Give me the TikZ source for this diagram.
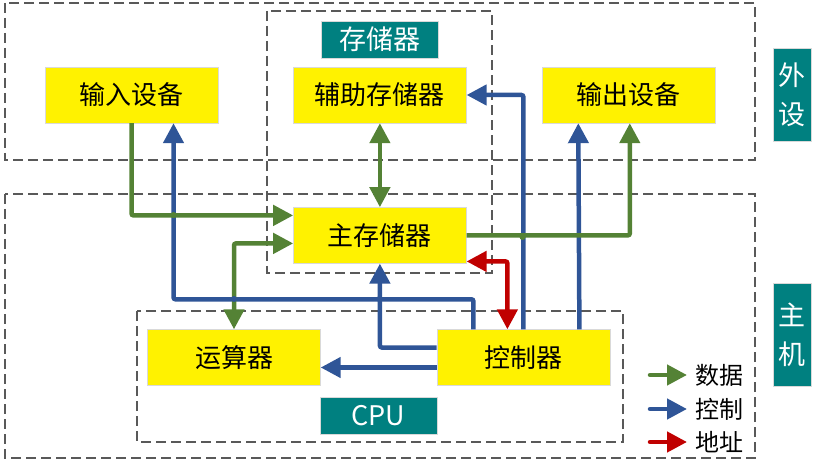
\documentclass[tikz,border=0pt]{standalone}
\usepackage{fontspec}
\newfontfamily\cjk{Noto Sans CJK SC}
\usepackage{tikz}
\usetikzlibrary{positioning, arrows.meta, calc}

\definecolor{datagreen}{RGB}{84,130,53}
\definecolor{ctrlblue}{RGB}{47,85,151}
\definecolor{addrred}{RGB}{192,0,0}
\definecolor{tagteal}{RGB}{0,128,128}

\begin{document}
\begin{tikzpicture}[
    x=1pt, y=-1pt,
    unit/.style={draw=black!15, fill=yellow, rectangle, minimum width=173pt, minimum height=56pt, inner sep=0pt, font=\cjk\fontsize{26}{30}\selectfont},
    tag/.style={draw=black!15, fill=tagteal, text=white, rectangle, minimum width=117pt, minimum height=37pt, inner sep=0pt, align=center, font=\cjk\fontsize{27}{39}\selectfont},
    legtext/.style={inner sep=0pt, anchor=west, font=\cjk\fontsize{24}{28}\selectfont},
    frame/.style={draw=black!65, line width=1.3pt, dash pattern=on 10pt off 5pt},
    edge/.style={line width=4.5pt, rounded corners=2pt, -{Triangle[length=20pt, width=20pt]}},
    both/.style={{Triangle[length=20pt, width=20pt]}-{Triangle[length=20pt, width=20pt]}},
    data/.style={edge, datagreen},
    ctrl/.style={edge, ctrlblue},
    addr/.style={edge, addrred}
]
\useasboundingbox (0,0) rectangle (824,470);

% Rahmen
\draw[frame] (5,3) rectangle (755,160);
\draw[frame] (5,194) rectangle (755,458);
\draw[frame] (267,11) rectangle (492,273);
\draw[frame] (137,311) rectangle (623,442);

% Knoten
\node[unit] (in) at (131.5,95) {输入设备};
\node[unit, right=75pt of in] (aux) {辅助存储器};
\node[unit, right=75pt of aux] (out) {输出设备};
\node[unit, below=84pt of aux] (main) {主存储器};
\node[unit] (alu) at (234,357.5) {运算器};
\node[unit, right=116pt of alu] (ctrl) {控制器};

\node[tag] (memtag) at (379.5,39.5) {存储器};
\node[tag] (cputag) at (378.5,415.5) {CPU};
\node[tag, minimum width=38pt, minimum height=93pt] (periph) at (792,94.5) {外\\设};
\node[tag, minimum width=38pt, minimum height=103pt] (host) at (792,334.5) {主\\机};

% Kanten: Steuerung
\draw[ctrl] ([xshift=-50pt]ctrl.north) -- ++(0,-30) -| ([xshift=42pt]in.south);
\draw[ctrl] ([yshift=10pt]ctrl.west) -| (main.south);
\draw[ctrl] ([yshift=-10pt]ctrl.west) -- ([yshift=-10pt]alu.east);
\draw[ctrl] (ctrl.north) |- (aux.east);
\draw[ctrl] ([xshift=56pt]ctrl.north) -- ([xshift=-50pt]out.south);

% Kanten: Daten
\draw[data] (in.south) |- ([yshift=20pt]main.west);
\draw[data, both] (aux.south) -- (main.north);
\draw[data] (main.east) -| ([xshift=1.5pt]out.south);
\draw[data, both] (alu.north) |- ([yshift=-8pt]main.west);

% Kanten: Adresse
\draw[addr, both] ([yshift=-26pt]main.east) -| ([xshift=-16pt]ctrl.north);

% Sprungstellen
\fill[datagreen] (173.5,215) circle (3pt);
\fill[ctrlblue] (234,299) circle (3pt);
\fill[ctrlblue] (379.5,299) circle (3pt);
\fill[datagreen] (522.5,237) circle (3pt);

% Legende
\node[legtext] (legdata) at (695,375) {数据};
\node[legtext] (legctrl) at (695,409) {控制};
\node[legtext] (legaddr) at (695,442) {地址};
\coordinate (legdata0) at (650,375);
\coordinate (legctrl0) at (650,409);
\coordinate (legaddr0) at (650,442);
\draw[data, line cap=round] (legdata0) -- ([xshift=-8pt]legdata.west);
\draw[ctrl, line cap=round] (legctrl0) -- ([xshift=-8pt]legctrl.west);
\draw[addr, line cap=round] (legaddr0) -- ([xshift=-8pt]legaddr.west);

\end{tikzpicture}
\end{document}
